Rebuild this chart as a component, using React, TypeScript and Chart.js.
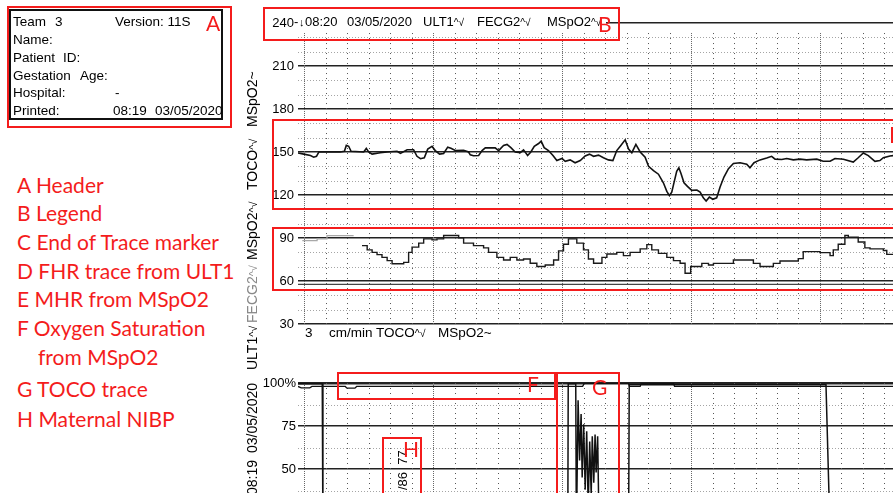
import React, { useEffect, useRef } from 'react';
import { Chart, registerables } from 'chart.js';

Chart.register(...registerables);

// ================= DATA =================
// Heart-rate panel (bpm) – time in seconds from 08:20 marker
const hrTickValues = [30, 60, 90, 120, 150, 180, 210, 240];
const hrMinorValues = [40, 50, 70, 80, 100, 110, 130, 140, 160, 170, 190, 200, 220, 230];

const fhrSeconds = [
  -3, -0.3, 2.8, 4.3, 5.6, 6.7, 16.7, 18.6, 19.5, 20.6,
  21.7, 27.6, 28.8, 29.9, 31.5, 35.3, 38.5, 43.1, 44.7, 47.8,
  50.8, 52.4, 54, 55.8, 57.4, 59.4, 60.9, 62.9, 64.8, 66.7,
  68.2, 70.2, 74.1, 76.4, 77.2, 78.7, 81.1, 82.7, 84.2, 88.8,
  90.4, 92.7, 94.3, 96.1, 98.1, 100.5, 102, 103.9, 105.4, 107,
  109, 110.2, 111.6, 113.6, 115.7, 117.5, 119.9, 121.4, 123.7, 126,
  128.4, 130.7, 132.7, 134.6, 136.9, 139.2, 141.5, 143.6, 145.4, 147.3,
  149.3, 150.9, 152.4, 154.3, 156.3, 158.6, 160.2, 162.5, 164.8, 167.1,
  168.7, 169.9, 171, 172.1, 173.3, 174.3, 175.3, 176.7, 178.3, 180.3,
  182.7, 184.2, 185.7, 187, 188.5, 190.1, 191.9, 193.5, 195.3, 197.4,
  199.7, 202.8, 205.9, 207.4, 209.3, 212.1, 215.2, 217.5, 219.1, 222.2,
  224.5, 227.6, 230.7, 233.8, 238.5, 241.5, 244.7, 247, 250.9, 255.5,
  257.8, 260.2, 262.5, 265.6, 267.9, 269.5, 272.6, 274,
];
const fhrBpm = [
  149.3, 148.5, 147.5, 146.4, 147, 150, 150, 150.5, 154.6, 154,
  150.5, 150, 152.5, 150, 148.5, 149.5, 150, 150.5, 149, 151.6,
  151.6, 147, 145.3, 146, 152, 153.9, 151, 148.5, 149, 153.4,
  152.6, 151, 151.2, 150, 148, 147.4, 147.6, 151, 152.9, 152.9,
  151, 154.5, 155.3, 153, 150, 149.5, 151.5, 147.6, 150, 154,
  155.9, 157.6, 153, 151, 147.5, 144, 145.5, 143.5, 144.5, 142.5,
  144, 147.2, 148.5, 147, 147.8, 146, 144.5, 144, 151, 154.6,
  158.5, 152, 149.5, 155.3, 150, 146.3, 140, 137, 134.5, 128.5,
  122.5, 119.6, 122, 129, 136.5, 139, 135, 128.5, 126, 123.2,
  123.5, 122, 118, 115.8, 118.5, 117, 118, 125.6, 132.5, 138.4,
  142, 142.5, 141.5, 139, 142.5, 144.5, 145.8, 147, 145, 144.8,
  145.5, 144.5, 145, 144.5, 145, 143.5, 143.5, 145.5, 145, 143,
  146, 149.3, 147.5, 143.5, 144, 146, 147.2, 147.5,
];

const fecgSeconds = [-1, 5.9, 10.5, 22.9];
const fecgBpm = [88.2, 89.4, 91.7, 91.7];

const mhrSeconds = [
  26.8, 29.2, 31.5, 33.8, 36.1, 38.5, 40.8, 46.2, 48.5, 50.1,
  53.2, 55.5, 59.4, 61.7, 64.8, 71.8, 74.1, 78.7, 83.4, 85.7,
  89.6, 92.7, 95.8, 98.9, 102, 105.1, 108.2, 112.1, 116, 118.3,
  120.6, 122.9, 126.8, 129.9, 132.2, 134.6, 138.5, 140.8, 145.4, 148.5,
  151.6, 156.3, 159.4, 161.7, 164.8, 168.7, 171.8, 174.9, 177.2, 179.8,
  185, 188.1, 190.4, 199.7, 209, 212.1, 218.3, 221.4, 229.9, 232.2,
  240, 244.7, 246.2, 248.5, 251.6, 253.2, 257.8, 260.9, 263.3, 269.5,
  271.1, 274,
];
const mhrBpm = [
  84.7, 81.7, 80, 78.4, 76.5, 74.2, 72, 73, 80, 83.6,
  86.4, 89.4, 88.7, 89.4, 91.7, 90.1, 86.4, 84.7, 83.1, 80,
  76.5, 74.6, 76.5, 74.6, 75.3, 72.4, 70.1, 71.2, 74.6, 81,
  85.6, 89.4, 86.4, 81.7, 75.3, 72.4, 76.5, 78.8, 80, 77.7,
  80, 82.4, 85.4, 81.7, 79.3, 76.5, 74.2, 72.4, 65.4, 70.1,
  72.3, 71.2, 72.3, 74.6, 72.3, 70.1, 72.3, 74, 75.6, 80.5,
  79.8, 77.7, 81.7, 85.6, 91.7, 90.5, 87.2, 83.1, 82.4, 81.3,
  78.6, 78.6,
];
const paperDoubleLineBpm = [57.7];

// Lower panel (%)
const pctTickValues = [0, 25, 50, 75, 100];
const pctTickLabels = ['0', '25', '50', '75', '100%'];
const pctMinorValues = [12.5, 37.5, 62.5, 87.5];

const spo2Seconds = [-3, -1.5, 2.5, 3.5, 19, 19.8, 23.5, 24.3, 129.5, 130.3, 150.9, 151.3, 156.3, 156.8, 171.8, 172.3, 274];
const spo2Percent = [98, 97.2, 97.2, 98, 98, 97, 97, 98, 98, 99.8, 99.8, 98, 98, 99.8, 99.8, 98, 98];

const tocoSeconds = [
  -3, 8.3, 8.6, 122.6, 122.8, 126.3, 126.6, 127.4, 128.1, 128.8,
  129.3, 130, 130.7, 131.4, 132.1, 132.8, 133.5, 134, 134.7, 135.3,
  135.8, 136.5, 137.2, 150.9, 151.2, 242.8, 244.7, 274,
];
const tocoValues = [
  99.5, 99.5, 12, 12, 99.5, 99.5, 12, 90, 55, 82,
  45, 76, 38, 72, 28, 66, 35, 69, 42, 70,
  48, 69, 12, 12, 99, 99, 12, 12,
];

// time axis (s) and paper grid
const timeMin = -3;
const timeMax = 274;
const timeGridSeconds = Array.from({ length: 28 }, (_, i) => i * 10);

// ================= HELPERS =================
const SANS = "'Liberation Sans', Arial, sans-serif";
const CAL = "Lato, 'Open Sans', sans-serif";
const RED = '#f41c1c';

const zip = (xs: number[], ys: number[]) => xs.map((x, i) => ({ x, y: ys[i] }));

const paperGrid = {
  id: 'paperGrid',
  beforeDatasetsDraw(chart: any, _a: any, o: any) {
    const { ctx, chartArea: ca } = chart;
    const xs = chart.scales.x;
    const ys = chart.scales.y;
    ctx.save();
    ctx.lineWidth = 1;
    ctx.strokeStyle = o.hColor;
    ctx.setLineDash(o.hDash);
    for (const v of o.hValues) {
      const py = Math.round(ys.getPixelForValue(v)) + 0.5;
      ctx.beginPath();
      ctx.moveTo(ca.left, py);
      ctx.lineTo(ca.right, py);
      ctx.stroke();
    }
    const top = ys.getPixelForValue(o.vFrom);
    for (const t of o.vValues) {
      const major = t % o.vMajorEvery === 0;
      const px = Math.round(xs.getPixelForValue(t)) + 0.5;
      ctx.strokeStyle = major ? o.vMajorColor : o.vColor;
      ctx.setLineDash(major ? o.vMajorDash : o.vDash);
      ctx.beginPath();
      ctx.moveTo(px, top);
      ctx.lineTo(px, ca.bottom);
      ctx.stroke();
    }
    ctx.setLineDash([]);
    for (const v of o.extraValues || []) {
      const py = ys.getPixelForValue(v);
      ctx.strokeStyle = o.extraColor;
      ctx.lineWidth = o.extraWidth;
      ctx.beginPath();
      ctx.moveTo(ca.left, py);
      ctx.lineTo(ca.right, py);
      ctx.stroke();
    }
    ctx.restore();
  },
};

function baseOptions(padTop: number, padBottom: number) {
  return {
    responsive: false,
    maintainAspectRatio: false,
    animation: false as const,
    devicePixelRatio: 1,
    events: [] as any[],
    layout: { padding: { top: padTop, bottom: padBottom, left: 0, right: 0 } },
  };
}

function Txt(props: any) {
  const { x, base, size, family = SANS, color = '#000', children, z = 6, lato = false, style = {} } = props;
  const lh = Math.round(size * 1.2);
  const content = lato ? 1.2 * size : 1.117 * size;
  const asc = lato ? 0.987 * size : 0.905 * size;
  const top = base - ((lh - content) / 2 + asc);
  return (
    <div
      style={{
        position: 'absolute', left: x, top, fontFamily: lato ? CAL : family, fontSize: size,
        lineHeight: `${lh}px`, color, whiteSpace: 'pre', zIndex: z, ...style,
      }}
    >
      {children}
    </div>
  );
}

const Sym = ({ c = '^√' }: any) => <span style={{ fontSize: '0.78em' }}>{c}</span>;

function Box({ l, t, r, b, z = 10 }: any) {
  return (
    <div
      style={{
        position: 'absolute', left: l, top: t, width: r - l, height: b - t,
        border: `2px solid ${RED}`, boxSizing: 'border-box', zIndex: z,
      }}
    />
  );
}

// ================= APP =================
export default function App() {
  const topRef = useRef<HTMLCanvasElement | null>(null);
  const botRef = useRef<HTMLCanvasElement | null>(null);

  useEffect(() => {
    Chart.defaults.font.family = SANS;
    const top = new Chart(topRef.current as HTMLCanvasElement, {
      type: 'line',
      data: {
        datasets: [
          { label: 'FHR ULT1', data: zip(fhrSeconds, fhrBpm), borderColor: '#111', borderWidth: 1.6, pointRadius: 0, tension: 0 },
          { label: 'FECG2', data: zip(fecgSeconds, fecgBpm), borderColor: '#a8a8a8', borderWidth: 1.2, pointRadius: 0, stepped: true },
          { label: 'MHR MSpO2', data: zip(mhrSeconds, mhrBpm), borderColor: '#1a1a1a', borderWidth: 1.4, pointRadius: 0, stepped: true },
        ],
      },
      options: {
        ...baseOptions(23, 16),
        plugins: {
          legend: { display: false }, tooltip: { enabled: false },
          paperGrid: {
            hValues: hrMinorValues, hColor: '#a5a5a5', hDash: [1, 2],
            vValues: timeGridSeconds, vFrom: 233, vMajorEvery: 60,
            vColor: '#555', vDash: [1, 4], vMajorColor: '#666', vMajorDash: [1, 1],
            extraValues: paperDoubleLineBpm, extraColor: '#444', extraWidth: 1.2,
          },
        } as any,
        scales: {
          x: { type: 'linear', min: timeMin, max: timeMax, display: false },
          y: {
            type: 'linear', min: 30, max: 240,
            afterBuildTicks: (s: any) => { s.ticks = hrTickValues.map((v) => ({ value: v })); },
            afterFit: (s: any) => { s.width = 40; },
            ticks: { font: { size: 13, family: SANS }, color: '#000', padding: 4 },
            grid: { color: '#222', lineWidth: 1.5, drawTicks: false },
            border: { display: false },
          },
        },
      } as any,
      plugins: [paperGrid as any],
    });

    const bot = new Chart(botRef.current as HTMLCanvasElement, {
      type: 'line',
      data: {
        datasets: [
          { label: 'SpO2 MSpO2', data: zip(spo2Seconds, spo2Percent), borderColor: '#111', borderWidth: 1.3, pointRadius: 0, tension: 0 },
          { label: 'TOCO', data: zip(tocoSeconds, tocoValues), borderColor: '#111', borderWidth: 1.5, pointRadius: 0, tension: 0 },
        ],
      },
      options: {
        ...baseOptions(43, 17),
        plugins: {
          legend: { display: false }, tooltip: { enabled: false },
          paperGrid: {
            hValues: pctMinorValues, hColor: '#a5a5a5', hDash: [1, 2],
            vValues: timeGridSeconds, vFrom: 100, vMajorEvery: 60,
            vColor: '#555', vDash: [1, 4], vMajorColor: '#666', vMajorDash: [1, 1],
            extraValues: [],
          },
        } as any,
        scales: {
          x: { type: 'linear', min: timeMin, max: timeMax, display: false },
          y: {
            type: 'linear', min: 0, max: 100,
            afterBuildTicks: (s: any) => { s.ticks = pctTickValues.map((v) => ({ value: v })); },
            afterFit: (s: any) => { s.width = 40; },
            ticks: {
              font: { size: 13, family: SANS }, color: '#000', padding: 2,
              callback: (v: any) => pctTickLabels[pctTickValues.indexOf(Number(v))] ?? '',
            },
            grid: {
              color: '#222', drawTicks: false,
              lineWidth: (c: any) => (c.tick && c.tick.value === 100 ? 2.4 : 1.5),
            },
            border: { display: false },
          },
        },
      } as any,
      plugins: [paperGrid as any],
    });

    return () => {
      top.destroy();
      bot.destroy();
    };
  }, []);

  const headerRows = [26.5, 44.4, 62.3, 80.2, 98.1, 116];
  const listBase = [192.3, 221, 250, 279, 307, 336, 365, 396.7, 426.7];
  const LS = 21;

  return (
    <div
      style={{
        position: 'fixed', left: 0, top: 0, width: 893, height: 493, overflow: 'hidden',
        background: '#fff', fontFamily: SANS,
      }}
    >
      {/* charts */}
      <canvas ref={topRef} width={635} height={340} style={{ position: 'absolute', left: 258, top: 0, width: 635, height: 340, zIndex: 1 }} />
      <canvas ref={botRef} width={635} height={232} style={{ position: 'absolute', left: 258, top: 340, width: 635, height: 232, zIndex: 1 }} />

      {/* header box A */}
      <div style={{ position: 'absolute', left: 9, top: 9, width: 214, height: 111, border: '2px solid #111', boxSizing: 'border-box', zIndex: 4 }} />
      <Txt x={13} base={headerRows[0]} size={13.5}>Team</Txt>
      <Txt x={55} base={headerRows[0]} size={13.5}>3</Txt>
      <Txt x={115} base={headerRows[0]} size={13.5}>Version: 11S</Txt>
      <Txt x={13} base={headerRows[1]} size={13.5}>Name:</Txt>
      <Txt x={13} base={headerRows[2]} size={13.5}>Patient</Txt>
      <Txt x={63} base={headerRows[2]} size={13.5}>ID:</Txt>
      <Txt x={13} base={headerRows[3]} size={13.5}>Gestation</Txt>
      <Txt x={80} base={headerRows[3]} size={13.5}>Age:</Txt>
      <Txt x={13} base={headerRows[4]} size={13.5}>Hospital:</Txt>
      <Txt x={115} base={headerRows[4]} size={13.5}>-</Txt>
      <Txt x={13} base={headerRows[5]} size={13.5}>Printed:</Txt>
      <Txt x={113} base={headerRows[5]} size={13.5}>08:19</Txt>
      <Txt x={155} base={headerRows[5]} size={13.5}>03/05/2020</Txt>

      {/* red key list */}
      <Txt x={17} base={listBase[0]} size={LS} lato color={RED}>A Header</Txt>
      <Txt x={17} base={listBase[1]} size={LS} lato color={RED}>B Legend</Txt>
      <Txt x={17} base={listBase[2]} size={LS} lato color={RED}>C End of Trace marker</Txt>
      <Txt x={17} base={listBase[3]} size={LS} lato color={RED}>D FHR trace from ULT1</Txt>
      <Txt x={17} base={listBase[4]} size={LS} lato color={RED}>E MHR from MSpO2</Txt>
      <Txt x={17} base={listBase[5]} size={LS} lato color={RED}>F Oxygen Saturation</Txt>
      <Txt x={38} base={listBase[6]} size={LS} lato color={RED}>from MSpO2</Txt>
      <Txt x={17} base={listBase[7]} size={LS} lato color={RED}>G TOCO trace</Txt>
      <Txt x={17} base={listBase[8]} size={LS} lato color={RED}>H Maternal NIBP</Txt>

      {/* legend strip B */}
      <div style={{ position: 'absolute', left: 296, top: 11, width: 310, height: 21, background: '#fff', zIndex: 3 }} />
      <Txt x={294} base={26.7} size={13}>-</Txt>
      <Txt x={299} base={26.7} size={11}>↓</Txt>
      <Txt x={305} base={26.7} size={13}>08:20</Txt>
      <Txt x={347} base={26.7} size={13}>03/05/2020</Txt>
      <Txt x={423} base={26.7} size={13}>ULT1<Sym /></Txt>
      <Txt x={477} base={26.7} size={13}>FECG2<Sym /></Txt>
      <Txt x={547} base={26.7} size={13}>MSpO2<Sym /></Txt>

      {/* paper speed line */}
      <Txt x={305} base={338} size={13.5}>3</Txt>
      <Txt x={329} base={338} size={13.5}>cm/min</Txt>
      <Txt x={376} base={338} size={13.5}>TOCO<Sym /></Txt>
      <Txt x={438} base={338} size={13.5}>MSpO2~</Txt>

      {/* rotated annotation strip */}
      <div
        style={{
          position: 'absolute', left: 244, top: 495, width: 440, height: 16,
          transform: 'rotate(-90deg)', transformOrigin: '0 0', fontSize: 14, lineHeight: '16px',
          whiteSpace: 'pre', zIndex: 5,
        }}
      >
        <span style={{ position: 'absolute', left: 0 }}>08:19</span>
        <span style={{ position: 'absolute', left: 42 }}>03/05/2020</span>
        <span style={{ position: 'absolute', left: 125 }}>ULT1<Sym /></span>
        <span style={{ position: 'absolute', left: 172, color: '#8a8a8a' }}>FECG2<Sym /></span>
        <span style={{ position: 'absolute', left: 235 }}>MSpO2<Sym /></span>
        <span style={{ position: 'absolute', left: 305 }}>TOCO<Sym /></span>
        <span style={{ position: 'absolute', left: 368 }}>MSpO2~</span>
      </div>

      {/* NIBP text */}
      <div
        style={{
          position: 'absolute', left: 395, top: 490, height: 16, transform: 'rotate(-90deg)',
          transformOrigin: '0 0', fontSize: 13, lineHeight: '16px', whiteSpace: 'pre', zIndex: 5,
        }}
      >
        {'/86  77'}
      </div>

      {/* red annotation boxes */}
      <Box l={7} t={6} r={232} b={128} />
      <Box l={263} t={7} r={620} b={41} />
      <Box l={891} t={127} r={930} b={143} />
      <Box l={272} t={119} r={930} b={210} />
      <Box l={272} t={227} r={930} b={291} />
      <Box l={337} t={372} r={556} b={400} />
      <Box l={556} t={372} r={620} b={520} />
      <Box l={382} t={437} r={422} b={520} />

      <Txt x={206} base={31} size={LS} lato color={RED} z={11}>A</Txt>
      <Txt x={598} base={32} size={LS} lato color={RED} z={11}>B</Txt>
      <Txt x={527} base={392} size={LS} lato color={RED} z={11}>F</Txt>
      <Txt x={592} base={395} size={LS} lato color={RED} z={11}>G</Txt>
      <Txt x={403} base={457} size={LS} lato color={RED} z={11}>H</Txt>
    </div>
  );
}
